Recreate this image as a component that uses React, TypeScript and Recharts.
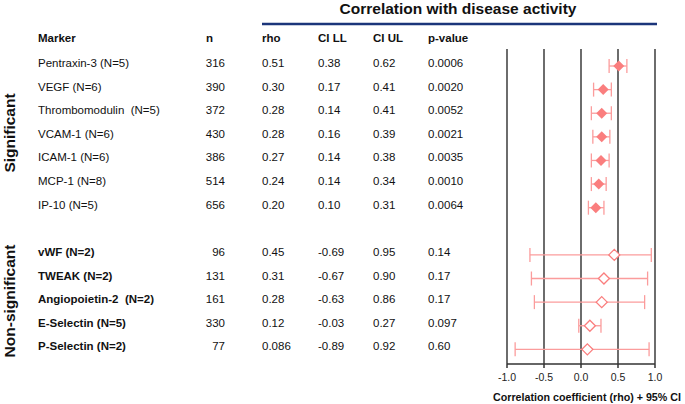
import React from "react";
import { ScatterChart, Scatter, XAxis, YAxis, ErrorBar, ReferenceLine } from "recharts";

// significant markers
const sigMarkers = ["Pentraxin-3 (N=5)", "VEGF (N=6)", "Thrombomodulin  (N=5)", "VCAM-1 (N=6)", "ICAM-1 (N=6)", "MCP-1 (N=8)", "IP-10 (N=5)"];
const sigN = ["316", "390", "372", "430", "386", "514", "656"];
const sigRho = ["0.51", "0.30", "0.28", "0.28", "0.27", "0.24", "0.20"];
const sigLL = ["0.38", "0.17", "0.14", "0.16", "0.14", "0.14", "0.10"];
const sigUL = ["0.62", "0.41", "0.41", "0.39", "0.38", "0.34", "0.31"];
const sigP = ["0.0006", "0.0020", "0.0052", "0.0021", "0.0035", "0.0010", "0.0064"];

// non-significant markers
const nsMarkers = ["vWF (N=2)", "TWEAK (N=2)", "Angiopoietin-2  (N=2)", "E-Selectin (N=5)", "P-Selectin (N=2)"];
const nsN = ["96", "131", "161", "330", "77"];
const nsRho = ["0.45", "0.31", "0.28", "0.12", "0.086"];
const nsLL = ["-0.69", "-0.67", "-0.63", "-0.03", "-0.89"];
const nsUL = ["0.95", "0.90", "0.86", "0.27", "0.92"];
const nsP = ["0.14", "0.17", "0.17", "0.097", "0.60"];

const xTicks = [-1, -0.5, 0, 0.5, 1];
const headers = ["Marker", "n", "rho", "CI LL", "CI UL", "p-value"];

const FONT = '"Liberation Sans", Arial, Helvetica, sans-serif';
const PINK = "#FA7E7E";
const PINK_LIGHT = "#FB9C9C";
const colX = [38, 225, 262, 318, 373, 428];

type Row = {
  row: number;
  marker: string;
  n: string;
  rhoText: string;
  ll: string;
  ul: string;
  p: string;
  rho: number;
  err: [number, number];
  bold: boolean;
};

function makeRows(markers: string[], n: string[], rho: string[], ll: string[], ul: string[], p: string[], start: number, bold: boolean): Row[] {
  return markers.map((m, i) => {
    const r = Number(rho[i]);
    return {
      row: start + i,
      marker: m,
      n: n[i],
      rhoText: rho[i],
      ll: ll[i],
      ul: ul[i],
      p: p[i],
      rho: r,
      err: [r - Number(ll[i]), Number(ul[i]) - r],
      bold,
    };
  });
}

const sigRows = makeRows(sigMarkers, sigN, sigRho, sigLL, sigUL, sigP, 0, false);
const nsRows = makeRows(nsMarkers, nsN, nsRho, nsLL, nsUL, nsP, sigMarkers.length + 1, true);
const allRows = [...sigRows, ...nsRows];

const TableTick = (props: any) => {
  const { y, payload } = props;
  const r = allRows.find((d) => d.row === payload.value);
  if (!r) return null;
  const ty = y - 3;
  const common = { y: ty, dy: "0.35em", fontSize: 11.5, fill: "#111", fontFamily: FONT };
  return (
    <g>
      <text {...common} x={colX[0]} fontWeight={r.bold ? "bold" : "normal"} style={{ whiteSpace: "pre" }}>
        {r.marker}
      </text>
      <text {...common} x={colX[1]} textAnchor="end">{r.n}</text>
      <text {...common} x={colX[2]}>{r.rhoText}</text>
      <text {...common} x={colX[3]}>{r.ll}</text>
      <text {...common} x={colX[4]}>{r.ul}</text>
      <text {...common} x={colX[5]}>{r.p}</text>
    </g>
  );
};

const FilledDiamond = (props: any) => {
  const { cx, cy } = props;
  const s = 5.5;
  return <polygon points={`${cx},${cy - s} ${cx + s},${cy} ${cx},${cy + s} ${cx - s},${cy}`} fill={PINK} />;
};

const OpenDiamond = (props: any) => {
  const { cx, cy } = props;
  const s = 5.5;
  return (
    <polygon
      points={`${cx},${cy - s} ${cx + s},${cy} ${cx},${cy + s} ${cx - s},${cy}`}
      fill="#fff"
      stroke={PINK}
      strokeWidth={1.3}
    />
  );
};

export default function App() {
  return (
    <div style={{ position: "absolute", left: 0, top: 0, width: 685, height: 404, background: "#fff", fontFamily: FONT }}>
      <ScatterChart width={685} height={404} margin={{ top: 49, right: 30, bottom: 0, left: 0 }}>
        <XAxis
          type="number"
          dataKey="rho"
          domain={[-1, 1]}
          ticks={xTicks}
          tickFormatter={(v: number) => v.toFixed(1)}
          height={40}
          stroke="#333"
          strokeWidth={1.5}
          tickSize={4}
          tickMargin={6}
          tick={{ fontSize: 10.5, fill: "#222", fontFamily: FONT }}
        />
        <YAxis
          type="number"
          dataKey="row"
          domain={[-0.72, 12.62]}
          reversed
          width={507}
          ticks={allRows.map((r) => r.row)}
          interval={0}
          axisLine={false}
          tickLine={false}
          tick={<TableTick />}
        />
        {xTicks.map((t) => (
          <ReferenceLine key={t} x={t} stroke="#484848" strokeWidth={1.6} />
        ))}
        <Scatter data={sigRows} shape={<FilledDiamond />} isAnimationActive={false}>
          <ErrorBar dataKey="err" direction="x" width={7} stroke={PINK_LIGHT} strokeWidth={1.3} />
        </Scatter>
        <Scatter data={nsRows} shape={<OpenDiamond />} isAnimationActive={false}>
          <ErrorBar dataKey="err" direction="x" width={7} stroke={PINK_LIGHT} strokeWidth={1.3} />
        </Scatter>
      </ScatterChart>
      <svg width={685} height={404} style={{ position: "absolute", left: 0, top: 0, pointerEvents: "none" }}>
        <text x={458} y={9} dy="0.35em" textAnchor="middle" fontSize={15.5} fontWeight="bold" fill="#111" fontFamily={FONT}>
          Correlation with disease activity
        </text>
        <line x1={262} x2={657} y1={24} y2={24} stroke="#1b357a" strokeWidth={2.5} />
        {headers.map((h, i) => (
          <text key={h} x={i === 1 ? 206 : colX[i]} y={38} dy="0.35em" fontSize={11.5} fontWeight="bold" fill="#111" fontFamily={FONT}>
            {h}
          </text>
        ))}
        <text transform="translate(10,133) rotate(-90)" dy="0.35em" textAnchor="middle" fontSize={15.5} fontWeight="bold" fill="#111" fontFamily={FONT}>
          Significant
        </text>
        <text transform="translate(10,301) rotate(-90)" dy="0.35em" textAnchor="middle" fontSize={15.5} fontWeight="bold" fill="#111" fontFamily={FONT}>
          Non-significant
        </text>
        <text x={587} y={397} dy="0.35em" textAnchor="middle" fontSize={10.7} fontWeight="bold" fill="#111" fontFamily={FONT}>
          Correlation coefficient (rho) + 95% CI
        </text>
      </svg>
    </div>
  );
}
